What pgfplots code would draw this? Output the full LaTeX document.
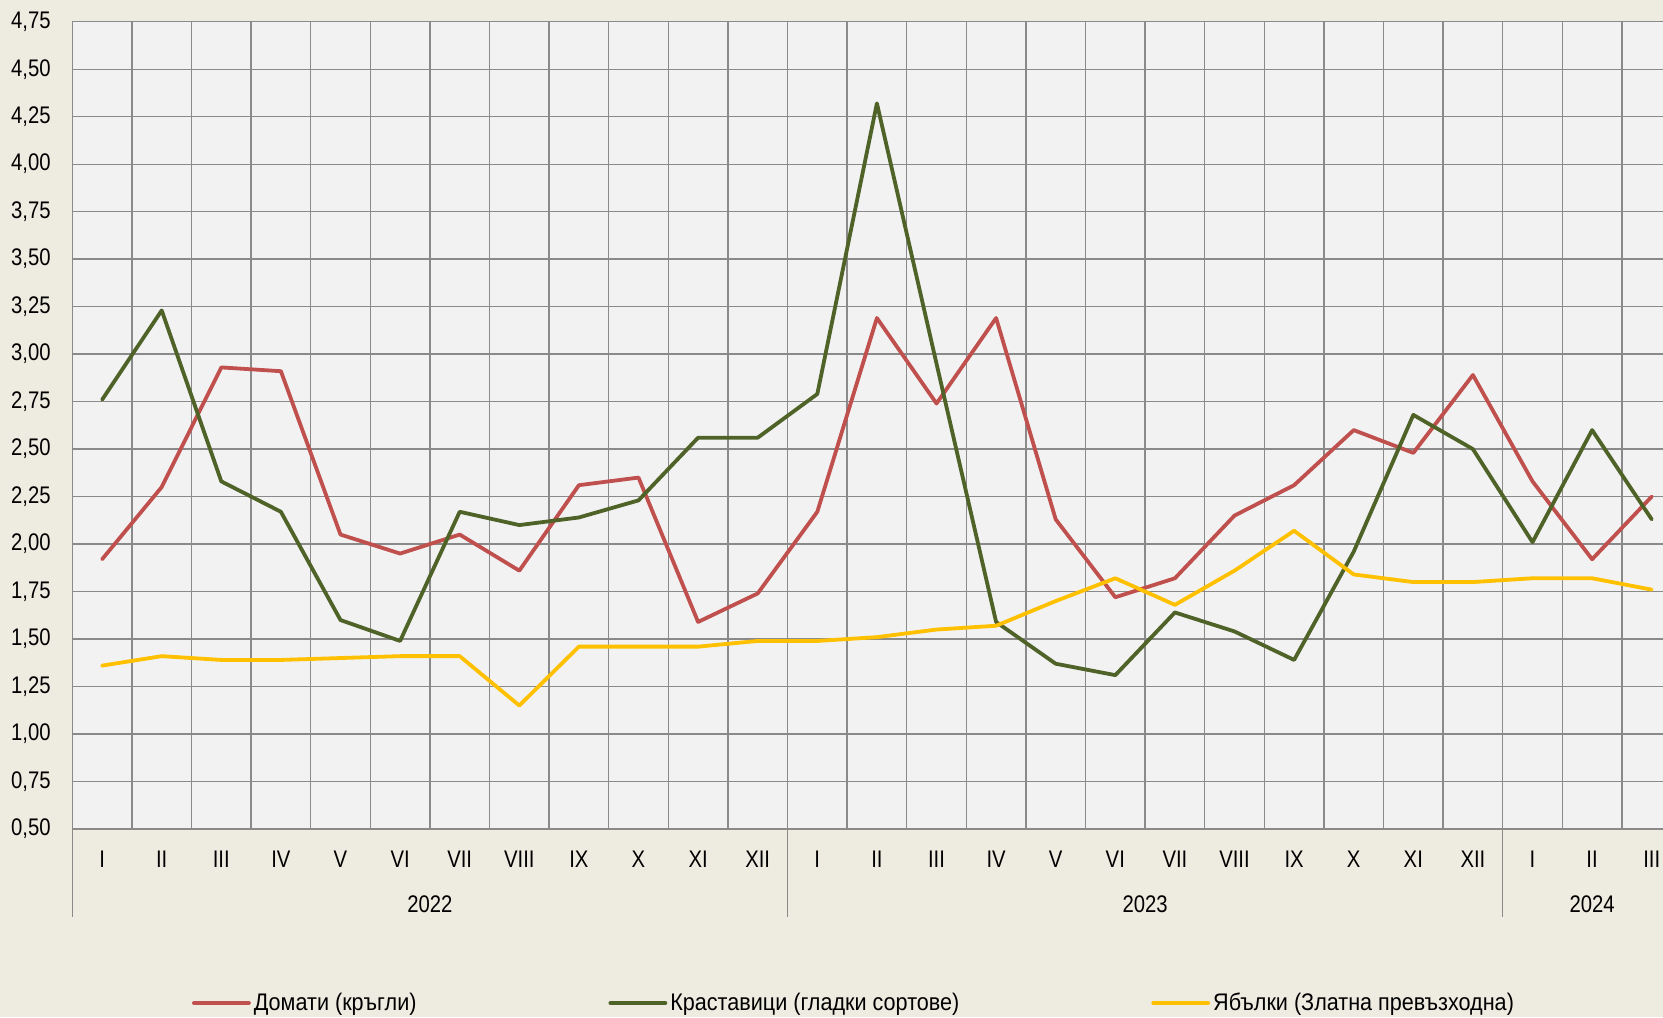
\documentclass[border=0pt]{standalone}
\usepackage{fontspec}
\setmainfont[FakeStretch=0.9]{Liberation Sans}
\newfontfamily\tickfam[FakeStretch=0.845]{Liberation Sans}
\usepackage{pgfplots}
\pgfplotsset{compat=1.18}
\definecolor{pagebg}{HTML}{EEEBE0}
\definecolor{plotbg}{HTML}{F2F2F2}
\definecolor{gridc}{HTML}{8A8A8A}
\definecolor{cred}{HTML}{C0504D}
\definecolor{cgreen}{HTML}{4F6228}
\definecolor{cyellow}{HTML}{FFC000}
\newcommand{\cfont}{\fontsize{12}{14}\selectfont}
\newcommand{\tfont}{\tickfam\fontsize{12}{14}\selectfont}
\begin{document}
\begin{tikzpicture}
\fill[pagebg] (-36.15pt,-94pt) rectangle (795.35pt,414.5pt);
\begin{axis}[
  scale only axis,
  width=804.6pt, height=403.65pt,
  xmin=-0.5, xmax=26.5,
  ymin=0.5, ymax=4.75,
  clip mode=individual,
  axis background/.style={fill=plotbg},
  axis lines*=left,
  axis line style={draw=gridc, line width=0.65pt},
  ytick={0.5,0.75,...,4.76},
  xtick={0,...,26},
  xticklabels={I,II,III,IV,V,VI,VII,VIII,IX,X,XI,XII,I,II,III,IV,V,VI,VII,VIII,IX,X,XI,XII,I,II,III},
  minor xtick={-0.5,0.5,...,26.5},
  xmajorgrids=false, xminorgrids=true, ymajorgrids=true,
  grid style={draw=gridc, line width=0.65pt},
  minor grid style={draw=gridc, line width=0.65pt},
  major tick length=0pt, minor tick length=0pt,
  tick style={draw=none},
  ticklabel style={font=\tfont},
  /pgf/number format/.cd, fixed, fixed zerofill, precision=2, use comma, assume math mode=true,
  /pgfplots/.cd,
  yticklabel style={anchor=east, inner sep=0pt, xshift=-10.65pt},
  xticklabel style={anchor=base, inner sep=0pt, yshift=-19pt},
  legend columns=3,
  legend image code/.code={\draw[#1, line cap=round] (0pt,0pt) -- (27.5pt,0pt);},
  legend style={draw=none, fill=none, inner sep=0pt, outer sep=0pt,
    font=\cfont, nodes={inner sep=0pt},
    at={(axis description cs:0.0744,-0.2155)}, anchor=west,
    /tikz/every even column/.append style={column sep=96pt},
    /tikz/every odd column/.append style={column sep=1.5pt}},
  every axis plot/.append style={line width=1.9pt, line join=round, line cap=round},
]
\addplot[cred] coordinates {
(0,1.92) (1,2.30) (2,2.93) (3,2.91) (4,2.05) (5,1.95) (6,2.05) (7,1.86) (8,2.31) (9,2.35) (10,1.59) (11,1.74)
(12,2.17) (13,3.19) (14,2.74) (15,3.19) (16,2.13) (17,1.72) (18,1.82) (19,2.15) (20,2.31) (21,2.60) (22,2.48) (23,2.89)
(24,2.33) (25,1.92) (26,2.25)};
\addlegendentry{Домати (кръгли)}
\addplot[cgreen] coordinates {
(0,2.76) (1,3.23) (2,2.33) (3,2.17) (4,1.60) (5,1.49) (6,2.17) (7,2.10) (8,2.14) (9,2.23) (10,2.56) (11,2.56)
(12,2.79) (13,4.32) (14,2.95) (15,1.59) (16,1.37) (17,1.31) (18,1.64) (19,1.54) (20,1.39) (21,1.96) (22,2.68) (23,2.50)
(24,2.01) (25,2.60) (26,2.13)};
\addlegendentry{Краставици (гладки сортове)}
\addplot[cyellow] coordinates {
(0,1.36) (1,1.41) (2,1.39) (3,1.39) (4,1.40) (5,1.41) (6,1.41) (7,1.15) (8,1.46) (9,1.46) (10,1.46) (11,1.49)
(12,1.49) (13,1.51) (14,1.55) (15,1.57) (16,1.70) (17,1.82) (18,1.68) (19,1.86) (20,2.07) (21,1.84) (22,1.80) (23,1.80)
(24,1.82) (25,1.82) (26,1.76)};
\addlegendentry{Ябълки (Златна превъзходна)}
\draw[gridc, line width=0.65pt] (axis cs:-0.5,0.5) -- ++(0pt,-44pt);
\draw[gridc, line width=0.65pt] (axis cs:11.5,0.5) -- ++(0pt,-44pt);
\draw[gridc, line width=0.65pt] (axis cs:23.5,0.5) -- ++(0pt,-44pt);
\node[font=\tfont, anchor=base, inner sep=0pt] at ([yshift=-41.5pt]axis cs:5.5,0.5) {2022};
\node[font=\tfont, anchor=base, inner sep=0pt] at ([yshift=-41.5pt]axis cs:17.5,0.5) {2023};
\node[font=\tfont, anchor=base, inner sep=0pt] at ([yshift=-41.5pt]axis cs:25,0.5) {2024};
\end{axis}
\pgfresetboundingbox
\path[use as bounding box] (-36.15pt,-94pt) rectangle (795.35pt,414.5pt);
\end{tikzpicture}
\end{document}
